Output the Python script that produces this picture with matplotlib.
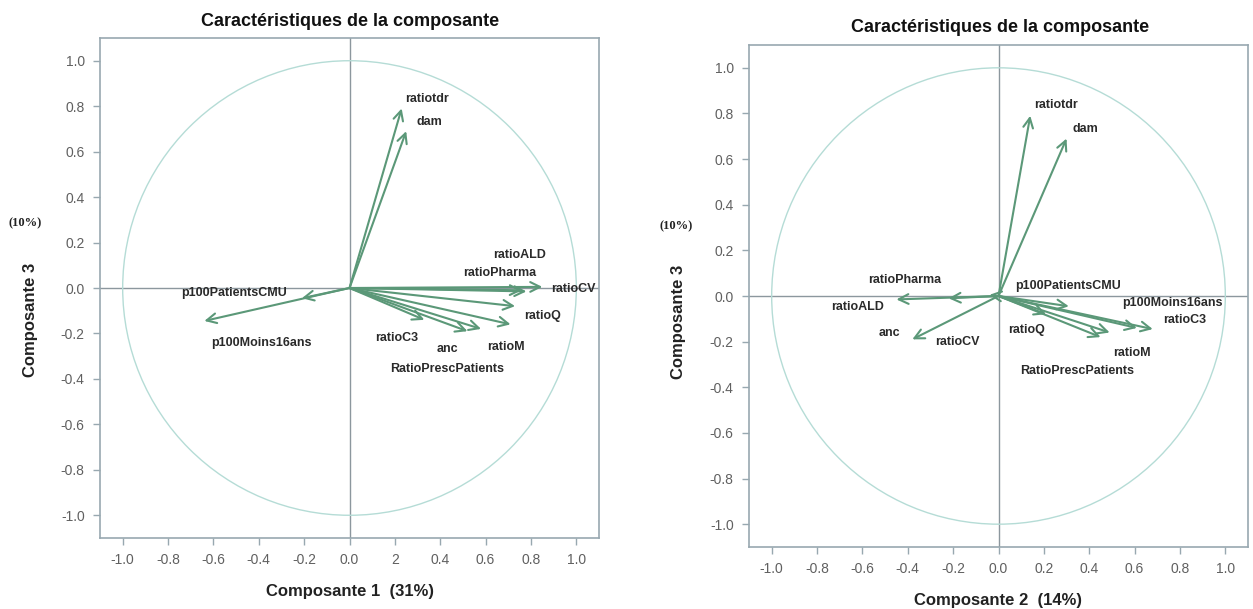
import numpy as np
import matplotlib
matplotlib.use("Agg")
import matplotlib.pyplot as plt
from matplotlib.patches import Circle

plt.rcParams['font.family'] = ['Liberation Sans', 'DejaVu Sans']
plt.rcParams['axes.unicode_minus'] = False

# ---- data ----
variables = ["ratiotdr", "dam", "ratioCV", "ratioALD", "ratioPharma", "ratioQ",
             "ratioM", "RatioPrescPatients", "anc", "ratioC3",
             "p100PatientsCMU", "p100Moins16ans"]
comp1 = [0.23, 0.25, 0.85, 0.78, 0.76, 0.73, 0.71, 0.58, 0.52, 0.33, -0.21, -0.64]
comp2 = [0.14, 0.30, -0.04, -0.45, -0.22, 0.21, 0.49, 0.45, -0.38, 0.61, 0.31, 0.68]
comp3 = [0.79, 0.69, 0.005, -0.015, -0.01, -0.08, -0.16, -0.18, -0.19, -0.14, -0.045, -0.145]
tick_values = [-1.0, -0.8, -0.6, -0.4, -0.2, 0.0, 0.2, 0.4, 0.6, 0.8, 1.0]
left_xticklabels = ["-1.0", "-0.8", "-0.6", "-0.4", "-0.2", "0.0", "2", "0.4", "0.6", "0.8", "1.0"]
title = "Caractéristiques de la composante"
xlabel_left = "Composante 1  (31%)"
xlabel_right = "Composante 2  (14%)"
ylabel = "Composante 3"
pct3 = "(10%)"

# label placement (data coords of label centres), layout only
lab_left = {
    "ratiotdr": (0.34, 0.83), "dam": (0.35, 0.73), "ratioALD": (0.75, 0.145),
    "ratioPharma": (0.66, 0.065), "ratioCV": (0.985, -0.005), "ratioQ": (0.85, -0.125),
    "ratioM": (0.69, -0.26), "ratioC3": (0.21, -0.22), "anc": (0.43, -0.27),
    "RatioPrescPatients": (0.43, -0.355), "p100PatientsCMU": (-0.51, -0.02),
    "p100Moins16ans": (-0.39, -0.24)}
lab_right = {
    "ratiotdr": (0.255, 0.835), "dam": (0.385, 0.73), "ratioPharma": (-0.415, 0.07),
    "ratioALD": (-0.62, -0.048), "anc": (-0.48, -0.16), "ratioCV": (-0.18, -0.2),
    "p100PatientsCMU": (0.305, 0.044), "p100Moins16ans": (0.765, -0.03),
    "ratioC3": (0.82, -0.105), "ratioQ": (0.125, -0.15), "ratioM": (0.59, -0.25),
    "RatioPrescPatients": (0.345, -0.33)}

W, H = 1253, 609
fig = plt.figure(figsize=(W / 100, H / 100), dpi=100)
fig.patch.set_facecolor("white")

frame_col = "#98a8b0"
zero_col = "#8c979e"
circ_col = "#b5dcd6"
arrow_col = "#5b9878"
tick_col = "#606060"


def panel(rect, xs, ys, labpos, xticklabels, xlabel):
    ax = fig.add_axes(rect)
    ax.set_xlim(-1.1, 1.1)
    ax.set_ylim(-1.1, 1.1)
    for s in ax.spines.values():
        s.set_color(frame_col)
        s.set_linewidth(1.2)
    ax.axhline(0, color=zero_col, lw=1.0, zorder=1)
    ax.axvline(0, color=zero_col, lw=1.0, zorder=1)
    ax.add_patch(Circle((0, 0), 1.0, fill=False, ec=circ_col, lw=1.0, zorder=1))
    for name, x, y in zip(variables, xs, ys):
        ax.annotate("", xy=(x, y), xytext=(0, 0),
                    arrowprops=dict(arrowstyle="->,head_length=0.7,head_width=0.35",
                                    color=arrow_col, lw=1.5, shrinkA=0, shrinkB=0),
                    zorder=3)
        lx, ly = labpos[name]
        ax.text(lx, ly, name, ha="center", va="center", fontsize=9,
                fontweight="bold", color="#2a2a2a", zorder=4)
    ax.set_xticks(tick_values)
    ax.set_xticklabels(xticklabels)
    ax.set_yticks(tick_values)
    ax.set_yticklabels([f"{v:.1f}" for v in tick_values])
    ax.tick_params(direction="out", length=5, width=1, color=frame_col,
                   labelcolor=tick_col, labelsize=10, pad=6)
    ax.set_xlabel(xlabel, fontsize=12, fontweight="bold", color="#222222", labelpad=12)
    return ax


axL = panel([100 / W, 1 - 538 / H, 499 / W, 500 / H], comp1, comp3, lab_left,
            left_xticklabels, xlabel_left)
axR = panel([749 / W, 1 - 547 / H, 499 / W, 502 / H], comp2, comp3, lab_right,
            [f"{v:.1f}" for v in tick_values], xlabel_right)

fig.text(350 / W, 1 - 22 / H, title, ha="center", va="center", fontsize=13,
         fontweight="bold", color="#111111")
fig.text(1000 / W, 1 - 27 / H, title, ha="center", va="center", fontsize=13,
         fontweight="bold", color="#111111")
for (px, py) in [(31, 320), (679, 322)]:
    fig.text(px / W, 1 - py / H, ylabel, ha="center", va="center", rotation=90,
             fontsize=12, fontweight="bold", color="#222222")
fig.text(25 / W, 1 - 223 / H, pct3, ha="center", va="center", fontsize=9,
         fontweight="bold", family=["Liberation Serif", "DejaVu Serif"], color="#222222")
fig.text(676 / W, 1 - 226 / H, pct3, ha="center", va="center", fontsize=9,
         fontweight="bold", family=["Liberation Serif", "DejaVu Serif"], color="#222222")

fig.savefig("out.png", dpi=100, facecolor="white")
